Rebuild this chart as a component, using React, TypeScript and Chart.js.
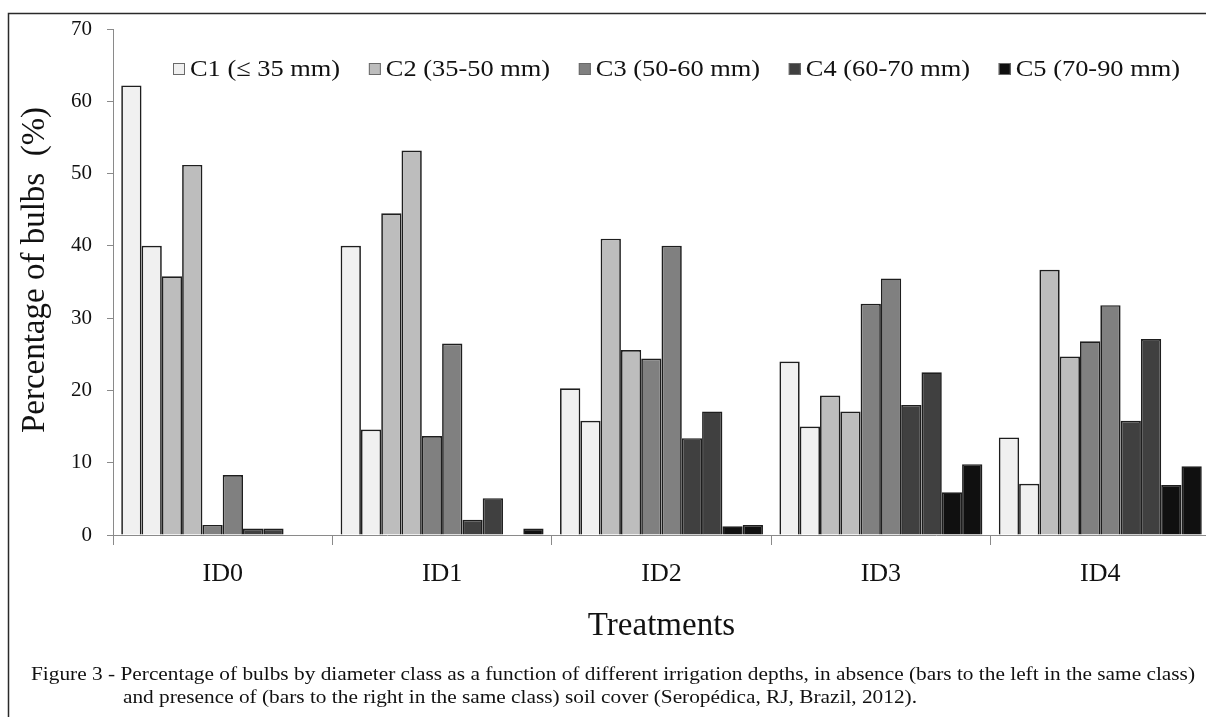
import React, { useEffect, useRef } from 'react';
import { Chart, registerables } from 'chart.js';

Chart.register(...registerables);

// ---------- data ----------
const treatments = ['ID0', 'ID1', 'ID2', 'ID3', 'ID4'];
const classLabels = ['C1 (≤ 35 mm)', 'C2 (35-50 mm)', 'C3 (50-60 mm)', 'C4 (60-70 mm)', 'C5 (70-90 mm)'];
// left bar of each class = without soil cover, right bar = with soil cover
const c1NoCover = [62.2, 40.0, 20.3, 24.0, 13.5];
const c1Cover = [40.0, 14.6, 15.8, 15.0, 7.1];
const c2NoCover = [35.8, 44.5, 41.0, 19.3, 36.7];
const c2Cover = [51.2, 53.2, 25.6, 17.1, 24.7];
const c3NoCover = [1.4, 13.7, 24.4, 32.0, 26.8];
const c3Cover = [8.3, 26.5, 40.0, 35.5, 31.8];
const c4NoCover = [0.9, 2.1, 13.4, 18.0, 15.8];
const c4Cover = [0.9, 5.1, 17.1, 22.5, 27.1];
const c5NoCover = [0, 0, 1.2, 5.9, 6.9];
const c5Cover = [0, 0.9, 1.4, 9.8, 9.5];
const yTicks = [0, 10, 20, 30, 40, 50, 60, 70];

const yTitle = 'Percentage of bulbs  (%)';
const xTitle = 'Treatments';
const captionLine1 =
  'Figure 3 - Percentage of bulbs by diameter class as a function of different irrigation depths, in absence (bars to the left in the same class)';
const captionLine2 =
  'and presence of (bars to the right in the same class) soil cover (Seropédica, RJ, Brazil, 2012).';

// ---------- style ----------
const classColors = ['#f0f0f0', '#bdbdbd', '#808080', '#404040', '#101010'];
const SERIF = "'Liberation Serif', 'Times New Roman', Times, serif";
const TEXT = '#111111';
const AXIS = '#8a8a8a';

function stretchedText(ctx: CanvasRenderingContext2D, text: string, x: number, y: number, targetWidth: number) {
  const w = ctx.measureText(text).width;
  const sx = w > 0 ? targetWidth / w : 1;
  ctx.save();
  ctx.translate(x, y);
  ctx.scale(sx, 1);
  ctx.fillText(text, 0, 0);
  ctx.restore();
}

export default function App() {
  const ref = useRef<HTMLCanvasElement | null>(null);

  useEffect(() => {
    const canvas = ref.current;
    if (!canvas) return;

    const noCover = [c1NoCover, c2NoCover, c3NoCover, c4NoCover, c5NoCover];
    const cover = [c1Cover, c2Cover, c3Cover, c4Cover, c5Cover];
    const datasets: any[] = [];
    classLabels.forEach((lab, i) => {
      [noCover[i], cover[i]].forEach((arr, j) => {
        datasets.push({
          label: lab + (j === 0 ? ' – no cover' : ' – cover'),
          data: arr,
          backgroundColor: classColors[i],
          borderColor: '#1e1e1e',
          borderWidth: 1.7,
          categoryPercentage: 0.925,
          barPercentage: 1.0,
        });
      });
    });

    const decor = {
      id: 'decor',
      beforeDraw(chart: any) {
        const { ctx, width, height } = chart;
        ctx.save();
        ctx.fillStyle = '#ffffff';
        ctx.fillRect(0, 0, width, height);
        ctx.strokeStyle = '#2a2a2a';
        ctx.lineWidth = 1.5;
        ctx.strokeRect(8.5, 13.5, width + 20, height + 20);
        ctx.restore();
      },
      afterDraw(chart: any) {
        const { ctx, chartArea } = chart;
        ctx.save();
        // y-axis title
        ctx.font = `33px ${SERIF}`;
        ctx.fillStyle = TEXT;
        ctx.textAlign = 'center';
        ctx.textBaseline = 'middle';
        ctx.translate(35, 270);
        ctx.rotate(-Math.PI / 2);
        ctx.fillText(yTitle, 0, 0);
        ctx.restore();

        // legend
        ctx.save();
        ctx.font = `24px ${SERIF}`;
        ctx.textBaseline = 'middle';
        ctx.textAlign = 'left';
        const sq = 12;
        const gapText = 5;
        const stretch = 1.1;
        const startX = chartArea.left + 60;
        const endX = 1180;
        const widths = classLabels.map((l) => ctx.measureText(l).width * stretch);
        const total = widths.reduce((a, b) => a + b, 0) + classLabels.length * (sq + gapText);
        const gap = (endX - startX - total) / (classLabels.length - 1);
        let x = startX;
        const cy = 69;
        classLabels.forEach((l, i) => {
          ctx.fillStyle = classColors[i];
          ctx.fillRect(x, cy - sq / 2, sq, sq);
          ctx.strokeStyle = '#6a6a6a';
          ctx.lineWidth = 1;
          ctx.strokeRect(x + 0.5, cy - sq / 2 + 0.5, sq - 1, sq - 1);
          ctx.fillStyle = TEXT;
          stretchedText(ctx, l, x + sq + gapText, cy + 1, widths[i]);
          x += sq + gapText + widths[i] + gap;
        });
        ctx.restore();

        // caption
        ctx.save();
        ctx.font = `18px ${SERIF}`;
        ctx.fillStyle = TEXT;
        ctx.textBaseline = 'middle';
        ctx.textAlign = 'left';
        stretchedText(ctx, captionLine1, 31, 675, 1164);
        stretchedText(ctx, captionLine2, 123, 698, 794);
        ctx.restore();
      },
    };

    const chart = new Chart(canvas, {
      type: 'bar',
      data: { labels: treatments, datasets },
      options: {
        animation: false,
        responsive: true,
        maintainAspectRatio: false,
        layout: { padding: { left: 0, top: 29, right: 6, bottom: 84 } },
        plugins: {
          legend: { display: false },
          tooltip: { enabled: false },
          title: { display: false },
        },
        scales: {
          x: {
            type: 'category',
            afterFit: (scale: any) => {
              scale.height = 111;
            },
            grid: {
              display: true,
              offset: true,
              drawOnChartArea: false,
              drawTicks: true,
              tickLength: 10,
              color: AXIS,
              lineWidth: 1,
            },
            border: { display: true, color: AXIS, width: 1 },
            ticks: {
              color: TEXT,
              font: { family: SERIF, size: 26 },
              padding: 14,
            },
            title: {
              display: true,
              text: xTitle,
              color: TEXT,
              font: { family: SERIF, size: 33 },
              padding: { top: 0, bottom: 0 },
            },
          },
          y: {
            min: 0,
            max: 70,
            afterFit: (scale: any) => {
              scale.width = 113;
            },
            afterBuildTicks: (scale: any) => {
              scale.ticks = yTicks.map((v) => ({ value: v }));
            },
            grid: {
              display: true,
              drawOnChartArea: false,
              drawTicks: true,
              tickLength: 6,
              color: AXIS,
              lineWidth: 1,
            },
            border: { display: true, color: AXIS, width: 1 },
            ticks: {
              color: TEXT,
              font: { family: SERIF, size: 21 },
              padding: 15,
            },
          },
        },
      },
      plugins: [decor],
    });

    return () => {
      chart.destroy();
    };
  }, []);

  return (
    <div
      style={{
        position: 'fixed',
        left: 0,
        top: 0,
        width: 1206,
        height: 717,
        overflow: 'hidden',
        background: '#ffffff',
      }}
    >
      <div style={{ position: 'relative', width: 1216, height: 730 }}>
        <canvas ref={ref} />
      </div>
    </div>
  );
}
